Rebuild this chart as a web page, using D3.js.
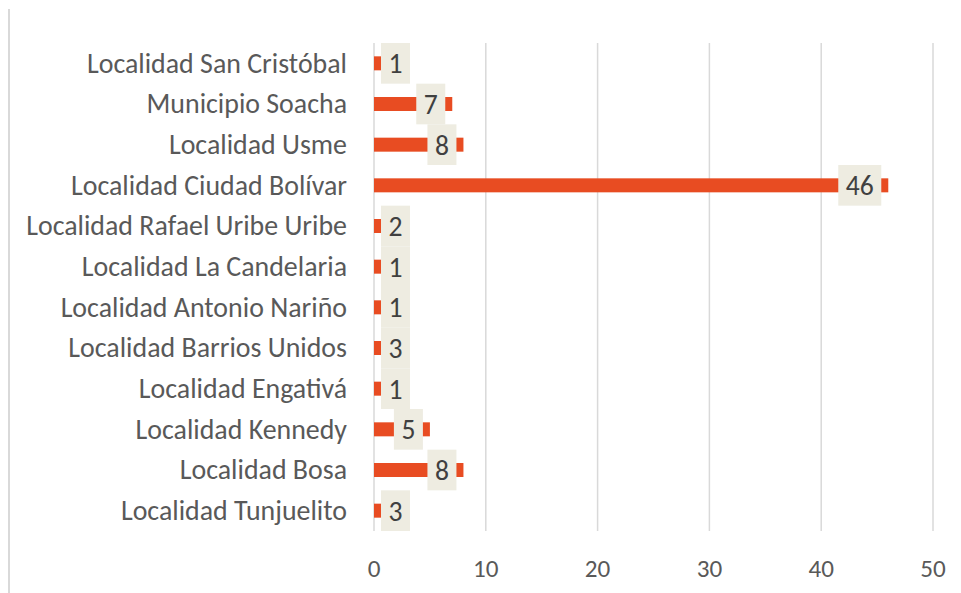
<!DOCTYPE html>
<html><head><meta charset="utf-8">
<script src="https://cdn.jsdelivr.net/npm/d3@7"></script>
<style>html,body{margin:0;padding:0;background:#fff;}svg{display:block;}</style>
</head><body>
<script>
const categories = ["Localidad San Cristóbal","Municipio Soacha","Localidad Usme","Localidad Ciudad Bolívar","Localidad Rafael Uribe Uribe","Localidad La Candelaria","Localidad Antonio Nariño","Localidad Barrios Unidos","Localidad Engativá","Localidad Kennedy","Localidad Bosa","Localidad Tunjuelito"];
const values = [1,7,8,46,2,1,1,3,1,5,8,3];
const ticks = [0,10,20,30,40,50];

const W = 961, H = 593;
const FONT = "Carlito, Lato, 'Open Sans', sans-serif";
const svg = d3.select("body").append("svg").attr("width", W).attr("height", H);

function fitSize(text, targetW) {
  const t = svg.append("text").attr("font-family", FONT).attr("font-size", 100).text(text);
  const w = t.node().getComputedTextLength();
  t.remove();
  return 100 * targetW / w;
}
const catFont = fitSize("Localidad Rafael Uribe Uribe", 321);
const lblFont = fitSize("46", 28);
const tickFont = fitSize("10", 25.5);

const m = {left: 374, right: 961 - 933, top: 43, bottom: 593 - 531};
const x = d3.scaleLinear().domain([0, 50]).range([m.left, W - m.right]);
const y = d3.scaleBand().domain(categories).range([m.top, H - m.bottom]).paddingInner(0).paddingOuter(0);

svg.append("line").attr("x1", 9).attr("x2", 9).attr("y1", 9).attr("y2", H)
  .attr("stroke", "#d9d9d9").attr("stroke-width", 2);

svg.append("g").selectAll("line").data(ticks).join("line")
  .attr("x1", d => x(d)).attr("x2", d => x(d))
  .attr("y1", m.top).attr("y2", H - m.bottom)
  .attr("stroke", "#d9d9d9").attr("stroke-width", 1.5);

svg.append("g").selectAll("text").data(ticks).join("text")
  .attr("x", d => x(d)).attr("y", 577)
  .attr("text-anchor", "middle").attr("font-family", FONT).attr("font-size", tickFont)
  .attr("fill", "#595959").text(d => d);

svg.append("g").selectAll("text").data(categories).join("text")
  .attr("x", 347).attr("y", d => y(d) + y.bandwidth() / 2 + catFont * 0.33)
  .attr("text-anchor", "end").attr("font-family", FONT).attr("font-size", catFont)
  .attr("fill", "#595959").text(d => d);

const barH = 14;
svg.append("g").selectAll("rect").data(values).join("rect")
  .attr("x", x(0)).attr("y", (d, i) => y(categories[i]) + y.bandwidth() / 2 - barH / 2)
  .attr("width", d => x(d) - x(0)).attr("height", barH)
  .attr("fill", "#E84C22");

const lg = svg.append("g");
values.forEach((v, i) => {
  const t = lg.append("text").attr("font-family", FONT).attr("font-size", lblFont)
    .attr("fill", "#404040").attr("text-anchor", "middle").text(v);
  const tw = t.node().getComputedTextLength();
  const bw = tw + 15;
  const bx = Math.max(x(0) + 7, x(v) - 7 - bw);
  const by = y(categories[i]);
  lg.insert("rect", () => t.node()).attr("x", bx).attr("y", by)
    .attr("width", bw).attr("height", y.bandwidth()).attr("fill", "#EEECE1");
  t.attr("x", bx + bw / 2).attr("y", by + y.bandwidth() / 2 + lblFont * 0.36);
});
</script>
</body></html>
